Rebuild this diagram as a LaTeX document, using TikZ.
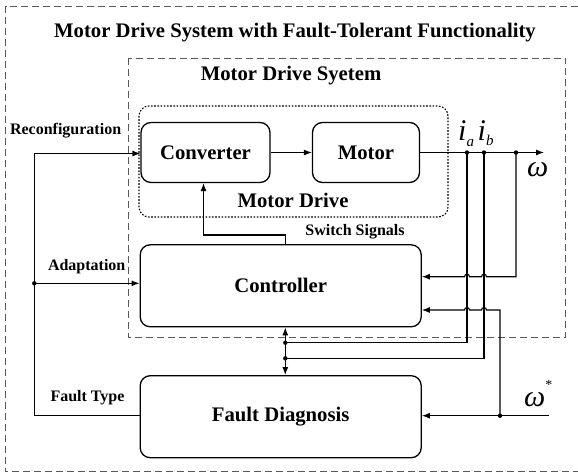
\documentclass[tikz,border=0pt]{standalone}
\usepackage{fontspec}
\setmainfont{Liberation Serif}
\usetikzlibrary{arrows.meta}

\begin{document}
\begin{tikzpicture}[x=1pt,y=1pt,
    block/.style={draw,line width=1.3pt,rounded corners=10pt,minimum height=60pt,inner sep=0pt,font=\fontsize{20.7}{24}\selectfont\bfseries},
    bigblock/.style={block,minimum width=281pt,minimum height=82pt},
    conn/.style={line width=1.1pt},
    arr/.style={conn,-{Latex[length=8pt,width=6pt]}},
    lbl/.style={font=\fontsize{16}{18}\selectfont\bfseries,inner sep=0pt},
    head/.style={font=\fontsize{20.7}{24}\selectfont\bfseries,inner sep=0pt},
    sym/.style={font=\fontsize{30}{30}\selectfont\itshape,inner sep=0pt,anchor=base west},
    frame/.style={draw=black!65,line width=0.9pt,dash pattern=on 7pt off 4pt}]
        \useasboundingbox (0,0) rectangle (578,-474);

        % Draw the dashed frames
        \draw[frame] (600,-6) -- (5.5,-6) -- (5.5,-471.7) -- (600,-471.7);
        \draw[frame] (128,-58.3) rectangle (565.8,-337.3);
        \draw[line width=1.1pt,dash pattern=on 1.6pt off 1.6pt,rounded corners=10pt] (139,-106) rectangle (448,-217);

        % Headings
        \node[head] (title) at (295,-33) {Motor Drive System with Fault-Tolerant Functionality};
        \node[head] (mds) at (291,-76) {Motor Drive Syetem};
        \node[head] (md) at (293,-200) {Motor Drive};

        % Blocks
        \node[block,minimum width=129pt] (conv) at (205.5,-152.5) {Converter};
        \node[block,minimum width=107pt] (motor) at (366,-152.5) {Motor};
        \node[bigblock] (ctrl) at (280.7,-285.8) {Controller};
        \node[bigblock] (diag) at (280.7,-416.7) {Fault Diagnosis};

        % Signal labels
        \node[lbl] (reconf) at (65.6,-131) {Reconfiguration};
        \node[lbl] (adapt) at (86.7,-266.7) {Adaptation};
        \node[lbl] (ftype) at (87.5,-398) {Fault Type};
        \node[lbl] (switch) at (355,-231.5) {Switch Signals};
        \node[sym] (ia) at (458,-140) {i\raisebox{-6.5pt}{\fontsize{15}{15}\selectfont a}};
        \node[sym] (ib) at (477.5,-140) {i\raisebox{-5.5pt}{\fontsize{15}{15}\selectfont b}};
        \node[sym] (w) at (527,-176.5) {ω};
        \node[sym] (wstar) at (524,-406.7) {ω\raisebox{17pt}{\fontsize{14}{14}\selectfont\upshape *}};

        % Junctions
        \coordinate (wout) at (544,-152.5);
        \coordinate (ja) at (467,-152.5);
        \coordinate (jb) at (484,-152.5);
        \coordinate (jw) at (516,-152.5);
        \coordinate (fbw) at (516,-276.7);
        \coordinate (wref) at (549,-415.7);
        \coordinate (jr) at (500,-415.7);
        \coordinate (fbr) at (500,-310);
        \coordinate (corner) at (34.3,-415.7);
        \coordinate (ja2) at (34.3,-283.3);
        \coordinate (top) at (34.3,-153.5);
        \coordinate (bus) at (285.3,-300);
        \coordinate (busa) at (285.3,-342.7);
        \coordinate (busb) at (285.3,-358.3);
        \coordinate (swa) at (285.3,-235);
        \coordinate (swb) at (203.5,-235);

        % Forward path
        \draw[arr] (conv) -- (motor);
        \draw[arr] (motor.east) -- (wout);

        % Measured currents to the diagnosis bus
        \draw[conn] (ja) -- (ja |- busa) -- (busa);
        \draw[conn] (jb) -- (jb |- busb) -- (busb);

        % Feedback to the controller, hopping over the current lines
        \draw[arr] (jw) -- (fbw) -- (486.5,-276.7) arc[start angle=0,end angle=180,radius=2.5pt]
            -- (469.5,-276.7) arc[start angle=0,end angle=180,radius=2.5pt] -- (ctrl.east |- fbw);
        \draw[arr] (wref) -- (diag.east |- wref);
        \draw[arr] (jr) -- (fbr) -- (486.5,-310) arc[start angle=0,end angle=180,radius=2.5pt]
            -- (469.5,-310) arc[start angle=0,end angle=180,radius=2.5pt] -- (ctrl.east |- fbr);

        % Fault type back to converter and controller
        \draw[arr] (diag.west |- corner) -- (corner) -- (top) -- (conv.west |- top);
        \draw[arr] (ja2) -- (ctrl.west |- ja2);

        % Switch signals and controller/diagnosis link
        \draw[arr] (ctrl.north -| swa) -- (swa) -- (swb) -- (conv.south -| swb);
        \draw[conn,{Latex[length=8pt,width=6pt]}-{Latex[length=8pt,width=6pt]}] (ctrl.south -| bus) -- (diag.north -| bus);

        \foreach \p in {ja,jb,jw,jr,ja2,busa,busb} {
            \fill (\p) circle (2.2pt);
        }
\end{tikzpicture}
\end{document}
